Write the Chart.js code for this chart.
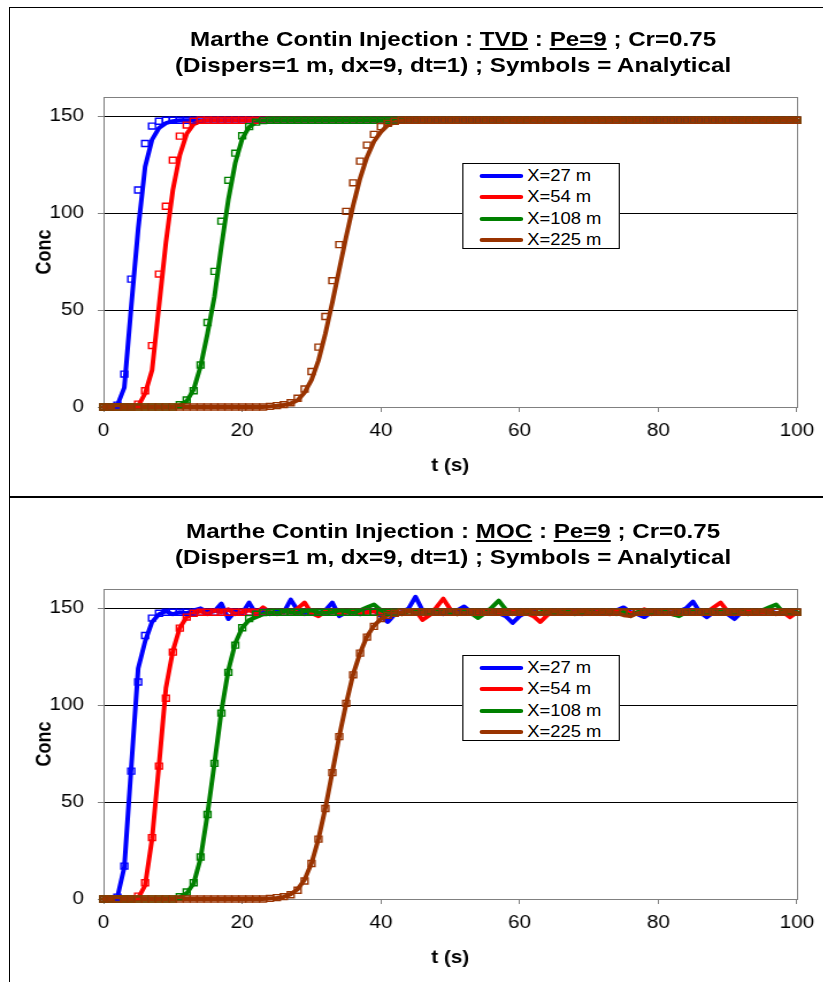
<!DOCTYPE html>
<html>
<head>
<meta charset="utf-8">
<script src="https://cdn.jsdelivr.net/npm/chart.js@4.4.0/dist/chart.umd.min.js"></script>
<style>
html,body{margin:0;padding:0;background:#fff;}
body{width:823px;height:982px;overflow:hidden;position:relative;font-family:"Liberation Sans",Arial,Helvetica,sans-serif;color:#000;}
.panel{position:absolute;left:0;width:716px;height:490px;transform:scaleX(1.15);transform-origin:0 0;}
.panel canvas{position:absolute;left:0;top:0;}
.title{position:absolute;left:0;width:788px;top:26px;text-align:center;font-weight:bold;font-size:21px;line-height:26px;white-space:nowrap;}
.title u{text-decoration-thickness:2px;text-underline-offset:2px;}
.legend{position:absolute;left:401.7px;top:163px;width:135.4px;height:83px;padding-top:1px;border:1px solid #000;background:#fff;}
.legend .row{height:21.5px;display:flex;align-items:center;font-size:16px;white-space:nowrap;}
.legend .sw{width:37.4px;height:4px;margin-left:14.7px;margin-right:3.7px;border-radius:2px;}
.hline{position:absolute;background:#000;}
</style>
</head>
<body>
<div class="panel" id="p1" style="top:0px;">
  <canvas id="c1" width="716" height="490"></canvas>
  <div class="title">Marthe Contin Injection : <u>TVD</u> : <u>Pe=9</u> ; Cr=0.75<br>(Dispers=1 m, dx=9, dt=1) ; Symbols = Analytical</div>
  <div class="legend" id="lg1"></div>
</div>
<div class="panel" id="p2" style="top:492px;">
  <canvas id="c2" width="716" height="490"></canvas>
  <div class="title">Marthe Contin Injection : <u>MOC</u> : <u>Pe=9</u> ; Cr=0.75<br>(Dispers=1 m, dx=9, dt=1) ; Symbols = Analytical</div>
  <div class="legend" id="lg2"></div>
</div>
<div class="hline" style="left:9px;top:7px;width:814px;height:1px;"></div>
<div class="hline" style="left:9px;top:7px;width:1px;height:975px;"></div>
<div class="hline" style="left:9px;top:496px;width:814px;height:2px;"></div>
<script>
// ---- data ----
const SERIES = ['X=27 m', 'X=54 m', 'X=108 m', 'X=225 m'];
const X_TICKS = [0, 20, 40, 60, 80, 100];
const Y_TICKS = [0, 50, 100, 150];
const T = [0,1,2,3,4,5,6,7,8,9,10,11,12,13,14,15,16,17,18,19,20,21,22,23,24,25,26,27,28,29,30,31,32,33,34,35,36,37,38,39,40,41,42,43,44,45,46,47,48,49,50,51,52,53,54,55,56,57,58,59,60,61,62,63,64,65,66,67,68,69,70,71,72,73,74,75,76,77,78,79,80,81,82,83,84,85,86,87,88,89,90,91,92,93,94,95,96,97,98,99,100];

// analytical (symbols)
const ANA_27 = [
0,0,1,17,66,112,136,145,147.5,148,
148,148,148,148,148,148,148,148,148,148,
148,148,148,148,148,148,148,148,148,148,
148,148,148,148,148,148,148,148,148,148,
148,148,148,148,148,148,148,148,148,148,
148,148,148,148,148,148,148,148,148,148,
148,148,148,148,148,148,148,148,148,148,
148,148,148,148,148,148,148,148,148,148,
148,148,148,148,148,148,148,148,148,148,
148,148,148,148,148,148,148,148,148,148,
148];
const ANA_54 = [
0,0,0,0,0,1.5,8.4,31.7,68.6,103.6,
127.4,139.8,145.5,147.5,148,148,148,148,148,148,
148,148,148,148,148,148,148,148,148,148,
148,148,148,148,148,148,148,148,148,148,
148,148,148,148,148,148,148,148,148,148,
148,148,148,148,148,148,148,148,148,148,
148,148,148,148,148,148,148,148,148,148,
148,148,148,148,148,148,148,148,148,148,
148,148,148,148,148,148,148,148,148,148,
148,148,148,148,148,148,148,148,148,148,
148];
const ANA_108 = [
0,0,0,0,0,0,0,0,0,0,
0,1.2,3.6,8.4,21.7,43.6,70,95.9,117,131,
140,144.7,147,147.8,148,148,148,148,148,148,
148,148,148,148,148,148,148,148,148,148,
148,148,148,148,148,148,148,148,148,148,
148,148,148,148,148,148,148,148,148,148,
148,148,148,148,148,148,148,148,148,148,
148,148,148,148,148,148,148,148,148,148,
148,148,148,148,148,148,148,148,148,148,
148,148,148,148,148,148,148,148,148,148,
148];
const ANA_225 = [
0,0,0,0,0,0,0,0,0,0,
0,0,0,0,0,0,0,0,0,0,
0,0,0,0,0.3,0.7,1.2,2.2,4.5,9.3,
18.3,30.9,46.7,65.2,83.8,101,115.7,126.9,135.2,140.7,
144.7,146.4,147.5,148,148,148,148,148,148,148,
148,148,148,148,148,148,148,148,148,148,
148,148,148,148,148,148,148,148,148,148,
148,148,148,148,148,148,148,148,148,148,
148,148,148,148,148,148,148,148,148,148,
148,148,148,148,148,148,148,148,148,148,
148];

// TVD numerical (lines, top chart)
const TVD_27 = [
0,0,1,10,52,92,124,138,144,146.5,
147.5,148,148,148,148,148,148,148,148,148,
148,148,148,148,148,148,148,148,148,148,
148,148,148,148,148,148,148,148,148,148,
148,148,148,148,148,148,148,148,148,148,
148,148,148,148,148,148,148,148,148,148,
148,148,148,148,148,148,148,148,148,148,
148,148,148,148,148,148,148,148,148,148,
148,148,148,148,148,148,148,148,148,148,
148,148,148,148,148,148,148,148,148,148,
148];
const TVD_54 = [
0,0,0,0,0,0.5,7,19,52,85,
112,130,141,146,147.5,148,148,148,148,148,
148,148,148,148,148,148,148,148,148,148,
148,148,148,148,148,148,148,148,148,148,
148,148,148,148,148,148,148,148,148,148,
148,148,148,148,148,148,148,148,148,148,
148,148,148,148,148,148,148,148,148,148,
148,148,148,148,148,148,148,148,148,148,
148,148,148,148,148,148,148,148,148,148,
148,148,148,148,148,148,148,148,148,148,
148];
const TVD_108 = [
0,0,0,0,0,0,0,0,0,0,
0,1,3,9,21,38,57,83,107,126,
138.5,144.5,147,147.8,148,148,148,148,148,148,
148,148,148,148,148,148,148,148,148,148,
148,148,148,148,148,148,148,148,148,148,
148,148,148,148,148,148,148,148,148,148,
148,148,148,148,148,148,148,148,148,148,
148,148,148,148,148,148,148,148,148,148,
148,148,148,148,148,148,148,148,148,148,
148,148,148,148,148,148,148,148,148,148,
148];
const TVD_225 = [
0,0,0,0,0,0,0,0,0,0,
0,0,0,0,0,0,0,0,0,0,
0,0,0,0,0.3,0.6,1,1.8,3.5,7.5,
14,24,38,54,71,88,104,118,129,137,
142,145.5,147,147.8,148,148,148,148,148,148,
148,148,148,148,148,148,148,148,148,148,
148,148,148,148,148,148,148,148,148,148,
148,148,148,148,148,148,148,148,148,148,
148,148,148,148,148,148,148,148,148,148,
148,148,148,148,148,148,148,148,148,148,
148];

// MOC numerical (lines, bottom chart)
const MOC_27 = [
0,0,1,16.5,68,119,133,143,147,148.5,
147,148,147.5,149,150,148,148.5,152.5,144.5,148.5,
147.5,153,147,148.5,147,149,148,154.5,149,147,
148,147.5,149,153,146,148,148.5,147,148.5,149,
146,143,147,148,150,156,149,147.5,148.5,147,
148,149,151,148,147,148.5,149,147.5,146,142.5,
146,148,148.5,147,148,149,147.5,148,149,147,
148,148.5,147.5,148,149,150.5,148,147,145.5,148,
149,147.5,148,148.5,150,153.5,148,145.5,148,148.5,
147,144.5,148,149,147.5,148,149,147.5,148,148.5,
148];
const MOC_54 = [
0,0,0,0,0,0.5,7,31,69,109,
128,140,145.5,147.5,148.5,147,149,148,149.5,147,
148,149,147.5,150.5,148,147,148.5,148,150,153,
147.5,146,148.5,149,147.5,148,149,147,148,148.5,
147.5,149,148,147,148.5,149,144,146.5,150.5,155,
149.5,147,148.5,148,147,149,148,147.5,148.5,149,
148,147.5,146,143,146.5,148.5,149,147.5,148,149,
147.5,148,148.5,147,148.5,149,147.5,148,149.5,147,
148,148.5,147,146.5,148,149,147.5,148,150.5,153,
148.5,147,148,149,147.5,148,148.5,147,148,145.5,
148];
const MOC_108 = [
0,0,0,0,0,0,0,0,0,0,
0,1,3,8,21,44,70,97,118,132,
140,144,145.5,147,148,147.5,148.5,148,147.5,148.5,
149,148,147.5,148,149,148.5,147.5,149,150.5,152,
149,147.5,148,147,148.5,149,148,147.5,148,149,
148,147,148.5,147.5,145,147.5,150.5,154,149.5,147,
148,148.5,147.5,148,149,147.5,148,148.5,147,148,
149,147.5,148,148.5,147,148,146,148,149,147.5,
148,148.5,147,146,148,149,148,147.5,148,149,
147.5,148,148.5,147,148,149,150.5,152,148,147,
148];
const MOC_225 = [
0,0,0,0,0,0,0,0,0,0,
0,0,0,0,0,0,0,0,0,0,
0,0,0,0,0.3,0.5,1,2.5,5,10,
18.5,31,47,65.5,84,101,116,127,135.5,141,
144.5,146.5,147.5,148,148.5,147.5,148,148.5,147.5,148,
149,148,147.5,148,148.5,147.5,148,148.5,148,147.5,
148,148.5,148,147.5,148,148.5,148,147.5,148,148.5,
148,147.5,148,148.5,147.5,146.5,146,147.5,148,148.5,
148,147.5,148,148.5,148,147.5,148,148.5,148,147.5,
148,148.5,148,147.5,148,148.5,148,147.5,148,148.5,
147.5];

const ANALYTICAL = [ANA_27, ANA_54, ANA_108, ANA_225];
const TVD_LINES = [TVD_27, TVD_54, TVD_108, TVD_225];
const MOC_LINES = [MOC_27, MOC_54, MOC_108, MOC_225];

// ---- styles ----
const COLORS = ['#0000FF', '#FF0000', '#008000', '#993300'];

Chart.defaults.font.family = '"Liberation Sans", Arial, Helvetica, sans-serif';
Chart.defaults.color = '#000';

const plotBorder = {
  id: 'plotBorder',
  beforeDatasetsDraw(chart) {
    const a = chart.chartArea, c = chart.ctx;
    c.save();
    c.strokeStyle = '#808080';
    c.lineWidth = 1;
    c.strokeRect(Math.round(a.left) + 0.5, Math.round(a.top) + 0.5,
                 Math.round(a.right) - Math.round(a.left), Math.round(a.bottom) - Math.round(a.top));
    c.restore();
  }
};

function pts(arr) { return T.map((t, i) => ({ x: t, y: arr[i] })); }

function makeChart(id, lines) {
  const ds = [];
  for (let k = 0; k < 4; k++) {
    ds.push({
      label: SERIES[k], data: pts(lines[k]),
      borderColor: COLORS[k], backgroundColor: COLORS[k],
      borderWidth: 4, pointRadius: 0, pointHoverRadius: 0, tension: 0, fill: false,
      borderJoinStyle: 'round', borderCapStyle: 'round',
      order: 7 - k, clip: false
    });
  }
  for (let k = 0; k < 4; k++) {
    ds.push({
      label: SERIES[k] + ' analytical', data: pts(ANALYTICAL[k]),
      showLine: false, pointStyle: 'rect', pointRadius: 4.2, pointBorderWidth: 1.4,
      pointBorderColor: COLORS[k], pointBackgroundColor: 'rgba(255,255,255,0)',
      borderColor: COLORS[k], backgroundColor: 'rgba(255,255,255,0)',
      order: 3 - k, clip: false
    });
  }
  return new Chart(document.getElementById(id), {
    type: 'line',
    data: { datasets: ds },
    plugins: [plotBorder],
    options: {
      responsive: false, animation: false, devicePixelRatio: 1,
      events: [],
      layout: { padding: { left: 0, right: 17, top: 97, bottom: 0 } },
      plugins: { legend: { display: false }, title: { display: false }, tooltip: { enabled: false } },
      scales: {
        x: {
          type: 'linear', min: 0, max: 100,
          afterBuildTicks: s => { s.ticks = X_TICKS.map(v => ({ value: v })); },
          afterFit: s => { s.height = 83; },
          ticks: { font: { size: 18 }, color: '#000', padding: 8, maxRotation: 0, autoSkip: false },
          grid: { drawOnChartArea: false, drawTicks: true, tickLength: 5, color: '#808080' },
          border: { display: true, color: '#808080', width: 1 },
          title: { display: true, text: 't (s)', font: { size: 18, weight: 'bold' }, color: '#000', padding: { top: 0, bottom: 13 } }
        },
        y: {
          type: 'linear', min: 0, max: 160,
          afterBuildTicks: s => { s.ticks = Y_TICKS.map(v => ({ value: v })); },
          afterFit: s => { s.width = 90; },
          ticks: { font: { size: 18 }, color: '#000', padding: 12, autoSkip: false },
          grid: { color: '#000', tickColor: '#808080', tickLength: 5, lineWidth: 1, drawTicks: true },
          border: { display: true, color: '#808080', width: 1 },
          title: { display: true, text: 'Conc', font: { size: 18, weight: 'bold' }, color: '#000', padding: { top: 28, bottom: 0 } }
        }
      }
    }
  });
}

function makeLegend(id) {
  const el = document.getElementById(id);
  SERIES.forEach((name, k) => {
    const row = document.createElement('div');
    row.className = 'row';
    const sw = document.createElement('span');
    sw.className = 'sw';
    sw.style.background = COLORS[k];
    const tx = document.createElement('span');
    tx.textContent = name;
    row.appendChild(sw); row.appendChild(tx);
    el.appendChild(row);
  });
}

makeChart('c1', TVD_LINES);
makeChart('c2', MOC_LINES);
makeLegend('lg1');
makeLegend('lg2');
</script>
</body>
</html>
